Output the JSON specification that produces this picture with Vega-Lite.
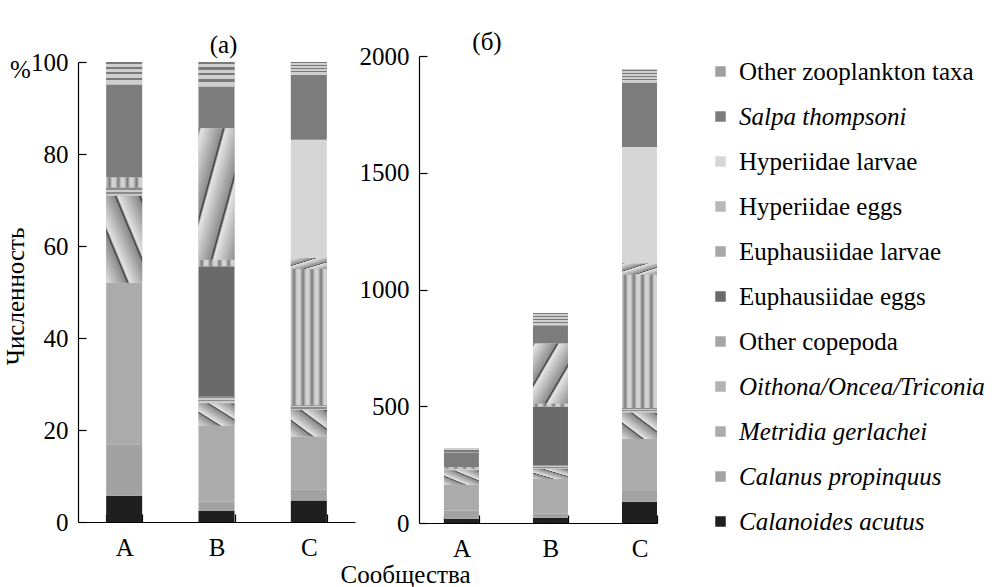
{
  "$schema": "https://vega.github.io/schema/vega-lite/v6.json",
  "padding": {"left": 3, "top": 30, "right": 5, "bottom": 5},
  "background": "white",
  "config": {
    "font": "Liberation Serif",
    "view": {"stroke": null},
    "axis": {"labelFont": "Liberation Serif", "titleFont": "Liberation Serif", "labelFontSize": 25, "titleFontSize": 25, "labelColor": "black", "titleColor": "black", "domainColor": "black", "tickColor": "black", "titleFontWeight": "normal", "grid": false, "tickSize": -8, "labelPadding": 18, "domainWidth": 1.2, "tickWidth": 1.2},
    "title": {"font": "Liberation Serif", "fontSize": 25, "fontWeight": "normal", "color": "black"},
    "legend": {"title": null, "labelFont": "Liberation Serif", "labelFontSize": 25, "labelColor": "black", "symbolType": "square", "symbolSize": 110, "symbolStrokeWidth": 0, "rowPadding": 19, "labelOffset": 6, "labelLimit": 400, "padding": 3}
  },
  "title": {"text": "Численность", "orient": "left", "anchor": "middle", "offset": -19, "dx": 12},
  "data": {"values": [
    {"community": "A", "taxon": "Calanoides acutus", "pct": 5.7, "n": 18},
    {"community": "A", "taxon": "Calanus propinquus", "pct": 11.2, "n": 36},
    {"community": "A", "taxon": "Metridia gerlachei", "pct": 35.1, "n": 110},
    {"community": "A", "taxon": "Oithona/Oncea/Triconia", "pct": 18.9, "n": 62},
    {"community": "A", "taxon": "Other copepoda", "pct": 1.8, "n": 6},
    {"community": "A", "taxon": "Euphausiidae larvae", "pct": 2.2, "n": 7},
    {"community": "A", "taxon": "Salpa thompsoni", "pct": 20.2, "n": 64},
    {"community": "A", "taxon": "Other zooplankton taxa", "pct": 4.9, "n": 15},
    {"community": "B", "taxon": "Calanoides acutus", "pct": 2.4, "n": 22},
    {"community": "B", "taxon": "Calanus propinquus", "pct": 2.0, "n": 18},
    {"community": "B", "taxon": "Metridia gerlachei", "pct": 16.5, "n": 148},
    {"community": "B", "taxon": "Oithona/Oncea/Triconia", "pct": 4.9, "n": 44},
    {"community": "B", "taxon": "Other copepoda", "pct": 1.6, "n": 14},
    {"community": "B", "taxon": "Euphausiidae eggs", "pct": 28.2, "n": 253},
    {"community": "B", "taxon": "Euphausiidae larvae", "pct": 1.4, "n": 13},
    {"community": "B", "taxon": "Hyperiidae eggs", "pct": 28.6, "n": 257},
    {"community": "B", "taxon": "Salpa thompsoni", "pct": 9.1, "n": 78},
    {"community": "B", "taxon": "Other zooplankton taxa", "pct": 5.3, "n": 52},
    {"community": "C", "taxon": "Calanoides acutus", "pct": 4.7, "n": 91},
    {"community": "C", "taxon": "Calanus propinquus", "pct": 2.4, "n": 46},
    {"community": "C", "taxon": "Metridia gerlachei", "pct": 11.5, "n": 223},
    {"community": "C", "taxon": "Oithona/Oncea/Triconia", "pct": 5.8, "n": 113},
    {"community": "C", "taxon": "Other copepoda", "pct": 1.0, "n": 19},
    {"community": "C", "taxon": "Euphausiidae larvae", "pct": 29.6, "n": 572},
    {"community": "C", "taxon": "Hyperiidae eggs", "pct": 2.4, "n": 47},
    {"community": "C", "taxon": "Hyperiidae larvae", "pct": 25.7, "n": 499},
    {"community": "C", "taxon": "Salpa thompsoni", "pct": 14.1, "n": 275},
    {"community": "C", "taxon": "Other zooplankton taxa", "pct": 2.8, "n": 56}
  ]},
  "transform": [
    {"calculate": "indexof(['Calanoides acutus','Calanus propinquus','Metridia gerlachei','Oithona/Oncea/Triconia','Other copepoda','Euphausiidae eggs','Euphausiidae larvae','Hyperiidae eggs','Hyperiidae larvae','Salpa thompsoni','Other zooplankton taxa'], datum.taxon)", "as": "stack_rank"},
    {"stack": "pct", "groupby": ["community"], "sort": [{"field": "stack_rank", "order": "ascending"}], "as": ["p0", "p1"]},
    {"stack": "n", "groupby": ["community"], "sort": [{"field": "stack_rank", "order": "ascending"}], "as": ["n0", "n1"]}
  ],
  "spacing": -15,
  "hconcat": [
    {
      "width": 277, "height": 466,
      "title": {"text": "(а)", "offset": -8, "dx": 7},
      "encoding": {
        "x": {"field": "community", "type": "nominal", "scale": {"paddingInner": 0.61, "paddingOuter": 0.305}, "axis": {"labelAngle": 0, "title": null, "tickBand": "extent", "labelPadding": 21}},
        "y": {"field": "p1", "type": "quantitative", "scale": {"domain": [0, 100], "nice": false, "range": [466, 6]}, "axis": {"values": [0, 20, 40, 60, 80, 100], "title": "%", "titleAngle": 0, "titleX": -58, "titleY": 13, "titleAlign": "center", "titleBaseline": "middle", "labelPadding": 18}},
        "y2": {"field": "p0"}
      },
      "layer": [
        {
          "mark": {"type": "bar"},
          "encoding": {
            "color": {
              "field": "taxon", "type": "nominal",
              "scale": {"domain": ["Calanoides acutus", "Calanus propinquus", "Metridia gerlachei", "Oithona/Oncea/Triconia", "Other copepoda", "Euphausiidae eggs", "Euphausiidae larvae", "Hyperiidae eggs", "Hyperiidae larvae", "Salpa thompsoni", "Other zooplankton taxa"],
                        "range": ["#1f1f1f", "#a2a2a2", "#ababab", "#b3b3b3", "#a6a6a6", "#6a6a6a", "#a8a8a8", "#b8b8b8", "#d6d6d6", "#7c7c7c", "#a0a0a0"]},
              "legend": {
                "values": ["Other zooplankton taxa", "Salpa thompsoni", "Hyperiidae larvae", "Hyperiidae eggs", "Euphausiidae larvae", "Euphausiidae eggs", "Other copepoda", "Oithona/Oncea/Triconia", "Metridia gerlachei", "Calanus propinquus", "Calanoides acutus"],
                "offset": 47,
                "encode": {"labels": {"update": {"fontStyle": {"signal": "indexof(['Salpa thompsoni','Oithona/Oncea/Triconia','Metridia gerlachei','Calanus propinquus','Calanoides acutus'], datum.value) >= 0 ? 'italic' : 'normal'"}}}}
              }
            }
          }
        },
        {
          "transform": [{"filter": "datum.taxon === 'Oithona/Oncea/Triconia'"}],
          "mark": {"type": "bar", "color": {"gradient": "linear", "x1": 0, "y1": 1, "x2": 1, "y2": 0, "stops": [
            {"offset": 0, "color": "#e2e2e2"}, {"offset": 0.28, "color": "#8a8a8a"}, {"offset": 0.3, "color": "#3a3a3a"}, {"offset": 0.33, "color": "#e2e2e2"},
            {"offset": 0.61, "color": "#8a8a8a"}, {"offset": 0.63, "color": "#3a3a3a"}, {"offset": 0.66, "color": "#e2e2e2"},
            {"offset": 0.94, "color": "#8a8a8a"}, {"offset": 0.97, "color": "#3a3a3a"}, {"offset": 1, "color": "#e2e2e2"}]}}
        },
        {
          "transform": [{"filter": "datum.taxon === 'Other copepoda'"}],
          "mark": {"type": "bar", "color": {"gradient": "linear", "x1": 0, "y1": 0, "x2": 0, "y2": 1, "stops": [
            {"offset": 0, "color": "#8a8a8a"}, {"offset": 0.25, "color": "#8a8a8a"}, {"offset": 0.25, "color": "#cccccc"}, {"offset": 0.5, "color": "#cccccc"},
            {"offset": 0.5, "color": "#8a8a8a"}, {"offset": 0.75, "color": "#8a8a8a"}, {"offset": 0.75, "color": "#cccccc"}, {"offset": 1, "color": "#cccccc"}]}}
        },
        {
          "transform": [{"filter": "datum.taxon === 'Euphausiidae larvae'"}],
          "mark": {"type": "bar", "color": {"gradient": "linear", "x1": 0, "y1": 0, "x2": 1, "y2": 0, "stops": [
            {"offset": 0, "color": "#d2d2d2"}, {"offset": 0.09, "color": "#7a7a7a"}, {"offset": 0.17, "color": "#d2d2d2"},
            {"offset": 0.25, "color": "#d2d2d2"}, {"offset": 0.34, "color": "#7a7a7a"}, {"offset": 0.42, "color": "#d2d2d2"},
            {"offset": 0.5, "color": "#d2d2d2"}, {"offset": 0.59, "color": "#7a7a7a"}, {"offset": 0.67, "color": "#d2d2d2"},
            {"offset": 0.75, "color": "#d2d2d2"}, {"offset": 0.84, "color": "#7a7a7a"}, {"offset": 0.92, "color": "#d2d2d2"}, {"offset": 1, "color": "#d2d2d2"}]}}
        },
        {
          "transform": [{"filter": "datum.taxon === 'Hyperiidae eggs'"}],
          "mark": {"type": "bar", "color": {"gradient": "linear", "x1": 0, "y1": 0, "x2": 1, "y2": 1, "stops": [
            {"offset": 0, "color": "#3a3a3a"}, {"offset": 0.04, "color": "#e4e4e4"}, {"offset": 0.33, "color": "#8e8e8e"}, {"offset": 0.35, "color": "#3a3a3a"},
            {"offset": 0.38, "color": "#e4e4e4"}, {"offset": 0.66, "color": "#8e8e8e"}, {"offset": 0.68, "color": "#3a3a3a"},
            {"offset": 0.71, "color": "#e4e4e4"}, {"offset": 1, "color": "#8e8e8e"}]}}
        },
        {
          "transform": [{"filter": "datum.taxon === 'Other zooplankton taxa'"}],
          "mark": {"type": "bar", "color": {"gradient": "linear", "x1": 0, "y1": 0, "x2": 0, "y2": 1, "stops": [
            {"offset": 0, "color": "#7a7a7a"}, {"offset": 0.1, "color": "#7a7a7a"}, {"offset": 0.1, "color": "#cfcfcf"}, {"offset": 0.22, "color": "#cfcfcf"},
            {"offset": 0.22, "color": "#7a7a7a"}, {"offset": 0.32, "color": "#7a7a7a"}, {"offset": 0.32, "color": "#cfcfcf"}, {"offset": 0.45, "color": "#cfcfcf"},
            {"offset": 0.45, "color": "#7a7a7a"}, {"offset": 0.55, "color": "#7a7a7a"}, {"offset": 0.55, "color": "#cfcfcf"}, {"offset": 0.7, "color": "#cfcfcf"},
            {"offset": 0.7, "color": "#7a7a7a"}, {"offset": 0.8, "color": "#7a7a7a"}, {"offset": 0.8, "color": "#cfcfcf"}, {"offset": 1, "color": "#cfcfcf"}]}}
        }
      ]
    },
    {
      "width": 238, "height": 467,
      "title": {"text": "(б)", "offset": -11, "dx": -51},
      "encoding": {
        "x": {"field": "community", "type": "nominal", "scale": {"paddingInner": 0.607, "paddingOuter": 0.14, "align": 1}, "axis": {"labelAngle": 0, "title": "Сообщества", "titleX": -14, "titleY": 51, "titleAlign": "center", "titleBaseline": "middle", "tickBand": "extent", "labelPadding": 21}},
        "y": {"field": "n1", "type": "quantitative", "scale": {"domain": [0, 2000], "nice": false}, "axis": {"values": [0, 500, 1000, 1500, 2000], "format": "d", "title": null, "labelPadding": 18}},
        "y2": {"field": "n0"}
      },
      "layer": [
        {"mark": {"type": "bar"}, "encoding": {"color": {"field": "taxon", "type": "nominal"}}},
        {
          "transform": [{"filter": "datum.taxon === 'Oithona/Oncea/Triconia'"}],
          "mark": {"type": "bar", "color": {"gradient": "linear", "x1": 0, "y1": 1, "x2": 1, "y2": 0, "stops": [
            {"offset": 0, "color": "#e2e2e2"}, {"offset": 0.28, "color": "#8a8a8a"}, {"offset": 0.3, "color": "#3a3a3a"}, {"offset": 0.33, "color": "#e2e2e2"},
            {"offset": 0.61, "color": "#8a8a8a"}, {"offset": 0.63, "color": "#3a3a3a"}, {"offset": 0.66, "color": "#e2e2e2"},
            {"offset": 0.94, "color": "#8a8a8a"}, {"offset": 0.97, "color": "#3a3a3a"}, {"offset": 1, "color": "#e2e2e2"}]}}
        },
        {
          "transform": [{"filter": "datum.taxon === 'Other copepoda'"}],
          "mark": {"type": "bar", "color": {"gradient": "linear", "x1": 0, "y1": 0, "x2": 0, "y2": 1, "stops": [
            {"offset": 0, "color": "#8a8a8a"}, {"offset": 0.25, "color": "#8a8a8a"}, {"offset": 0.25, "color": "#cccccc"}, {"offset": 0.5, "color": "#cccccc"},
            {"offset": 0.5, "color": "#8a8a8a"}, {"offset": 0.75, "color": "#8a8a8a"}, {"offset": 0.75, "color": "#cccccc"}, {"offset": 1, "color": "#cccccc"}]}}
        },
        {
          "transform": [{"filter": "datum.taxon === 'Euphausiidae larvae'"}],
          "mark": {"type": "bar", "color": {"gradient": "linear", "x1": 0, "y1": 0, "x2": 1, "y2": 0, "stops": [
            {"offset": 0, "color": "#d2d2d2"}, {"offset": 0.09, "color": "#7a7a7a"}, {"offset": 0.17, "color": "#d2d2d2"},
            {"offset": 0.25, "color": "#d2d2d2"}, {"offset": 0.34, "color": "#7a7a7a"}, {"offset": 0.42, "color": "#d2d2d2"},
            {"offset": 0.5, "color": "#d2d2d2"}, {"offset": 0.59, "color": "#7a7a7a"}, {"offset": 0.67, "color": "#d2d2d2"},
            {"offset": 0.75, "color": "#d2d2d2"}, {"offset": 0.84, "color": "#7a7a7a"}, {"offset": 0.92, "color": "#d2d2d2"}, {"offset": 1, "color": "#d2d2d2"}]}}
        },
        {
          "transform": [{"filter": "datum.taxon === 'Hyperiidae eggs'"}],
          "mark": {"type": "bar", "color": {"gradient": "linear", "x1": 0, "y1": 0, "x2": 1, "y2": 1, "stops": [
            {"offset": 0, "color": "#3a3a3a"}, {"offset": 0.04, "color": "#e4e4e4"}, {"offset": 0.33, "color": "#8e8e8e"}, {"offset": 0.35, "color": "#3a3a3a"},
            {"offset": 0.38, "color": "#e4e4e4"}, {"offset": 0.66, "color": "#8e8e8e"}, {"offset": 0.68, "color": "#3a3a3a"},
            {"offset": 0.71, "color": "#e4e4e4"}, {"offset": 1, "color": "#8e8e8e"}]}}
        },
        {
          "transform": [{"filter": "datum.taxon === 'Other zooplankton taxa'"}],
          "mark": {"type": "bar", "color": {"gradient": "linear", "x1": 0, "y1": 0, "x2": 0, "y2": 1, "stops": [
            {"offset": 0, "color": "#7a7a7a"}, {"offset": 0.1, "color": "#7a7a7a"}, {"offset": 0.1, "color": "#cfcfcf"}, {"offset": 0.22, "color": "#cfcfcf"},
            {"offset": 0.22, "color": "#7a7a7a"}, {"offset": 0.32, "color": "#7a7a7a"}, {"offset": 0.32, "color": "#cfcfcf"}, {"offset": 0.45, "color": "#cfcfcf"},
            {"offset": 0.45, "color": "#7a7a7a"}, {"offset": 0.55, "color": "#7a7a7a"}, {"offset": 0.55, "color": "#cfcfcf"}, {"offset": 0.7, "color": "#cfcfcf"},
            {"offset": 0.7, "color": "#7a7a7a"}, {"offset": 0.8, "color": "#7a7a7a"}, {"offset": 0.8, "color": "#cfcfcf"}, {"offset": 1, "color": "#cfcfcf"}]}}
        }
      ]
    }
  ]
}
